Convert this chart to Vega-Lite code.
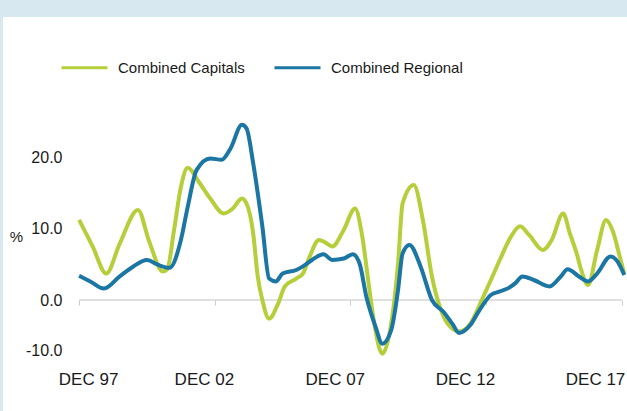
{
  "$schema": "https://vega.github.io/schema/vega-lite/v6.json",
  "width": 624,
  "height": 394,
  "autosize": {"type": "none"},
  "padding": {"left": 3, "top": 17, "right": 0, "bottom": 0},
  "background": "#d7e8f0",
  "view": {"fill": "white", "stroke": null},
  "config": {
    "font": "Liberation Sans",
    "axis": {"labelColor": "#1a1a1a", "titleColor": "#1a1a1a", "labelFont": "Liberation Sans", "titleFont": "Liberation Sans"}
  },
  "datasets": {
    "zero": [{"start": "1997-12-01", "end": "2017-12-01", "level": 0}],
    "series": [
      {"date": "1997-12-01", "series": "Combined Capitals", "value": 11.2},
      {"date": "1998-06-01", "series": "Combined Capitals", "value": 7.5},
      {"date": "1998-12-01", "series": "Combined Capitals", "value": 3.7},
      {"date": "1999-06-01", "series": "Combined Capitals", "value": 7.9},
      {"date": "2000-02-01", "series": "Combined Capitals", "value": 12.6},
      {"date": "2000-07-01", "series": "Combined Capitals", "value": 8.2},
      {"date": "2001-01-01", "series": "Combined Capitals", "value": 4.0},
      {"date": "2001-03-01", "series": "Combined Capitals", "value": 4.3},
      {"date": "2001-06-01", "series": "Combined Capitals", "value": 9.8},
      {"date": "2001-09-01", "series": "Combined Capitals", "value": 15.8},
      {"date": "2001-12-01", "series": "Combined Capitals", "value": 18.5},
      {"date": "2002-05-01", "series": "Combined Capitals", "value": 16.5},
      {"date": "2002-10-01", "series": "Combined Capitals", "value": 14.2},
      {"date": "2003-04-01", "series": "Combined Capitals", "value": 12.1},
      {"date": "2003-08-01", "series": "Combined Capitals", "value": 12.8},
      {"date": "2003-12-01", "series": "Combined Capitals", "value": 14.2},
      {"date": "2004-02-01", "series": "Combined Capitals", "value": 13.5},
      {"date": "2004-05-01", "series": "Combined Capitals", "value": 9.3},
      {"date": "2004-07-01", "series": "Combined Capitals", "value": 3.3},
      {"date": "2004-09-01", "series": "Combined Capitals", "value": 0.0},
      {"date": "2004-12-01", "series": "Combined Capitals", "value": -2.6},
      {"date": "2005-04-01", "series": "Combined Capitals", "value": -0.5},
      {"date": "2005-07-01", "series": "Combined Capitals", "value": 1.9},
      {"date": "2005-12-01", "series": "Combined Capitals", "value": 3.0},
      {"date": "2006-03-01", "series": "Combined Capitals", "value": 3.7},
      {"date": "2006-06-01", "series": "Combined Capitals", "value": 6.1},
      {"date": "2006-10-01", "series": "Combined Capitals", "value": 8.4},
      {"date": "2006-12-01", "series": "Combined Capitals", "value": 8.2},
      {"date": "2007-04-01", "series": "Combined Capitals", "value": 7.5},
      {"date": "2007-09-01", "series": "Combined Capitals", "value": 9.8},
      {"date": "2008-02-01", "series": "Combined Capitals", "value": 12.8},
      {"date": "2008-05-01", "series": "Combined Capitals", "value": 9.3},
      {"date": "2008-08-01", "series": "Combined Capitals", "value": 2.3},
      {"date": "2008-10-01", "series": "Combined Capitals", "value": -2.3},
      {"date": "2009-01-01", "series": "Combined Capitals", "value": -7.0},
      {"date": "2009-02-01", "series": "Combined Capitals", "value": -7.5},
      {"date": "2009-06-01", "series": "Combined Capitals", "value": -3.3},
      {"date": "2009-09-01", "series": "Combined Capitals", "value": 5.1},
      {"date": "2009-11-01", "series": "Combined Capitals", "value": 13.5},
      {"date": "2010-04-01", "series": "Combined Capitals", "value": 16.1},
      {"date": "2010-08-01", "series": "Combined Capitals", "value": 11.2},
      {"date": "2010-12-01", "series": "Combined Capitals", "value": 3.3},
      {"date": "2011-04-01", "series": "Combined Capitals", "value": -1.4},
      {"date": "2011-08-01", "series": "Combined Capitals", "value": -3.7},
      {"date": "2011-12-01", "series": "Combined Capitals", "value": -4.4},
      {"date": "2012-05-01", "series": "Combined Capitals", "value": -3.3},
      {"date": "2012-10-01", "series": "Combined Capitals", "value": 0.0},
      {"date": "2013-02-01", "series": "Combined Capitals", "value": 2.8},
      {"date": "2013-06-01", "series": "Combined Capitals", "value": 5.6},
      {"date": "2013-11-01", "series": "Combined Capitals", "value": 8.9},
      {"date": "2014-03-01", "series": "Combined Capitals", "value": 10.3},
      {"date": "2014-07-01", "series": "Combined Capitals", "value": 9.1},
      {"date": "2015-01-01", "series": "Combined Capitals", "value": 7.0},
      {"date": "2015-05-01", "series": "Combined Capitals", "value": 8.4},
      {"date": "2015-10-01", "series": "Combined Capitals", "value": 12.1},
      {"date": "2016-01-01", "series": "Combined Capitals", "value": 9.3},
      {"date": "2016-04-01", "series": "Combined Capitals", "value": 6.5},
      {"date": "2016-06-01", "series": "Combined Capitals", "value": 4.2},
      {"date": "2016-09-01", "series": "Combined Capitals", "value": 2.1},
      {"date": "2017-01-01", "series": "Combined Capitals", "value": 7.0},
      {"date": "2017-05-01", "series": "Combined Capitals", "value": 11.2},
      {"date": "2017-08-01", "series": "Combined Capitals", "value": 9.6},
      {"date": "2017-11-01", "series": "Combined Capitals", "value": 6.1},
      {"date": "2018-01-01", "series": "Combined Capitals", "value": 3.7},
      {"date": "1997-12-01", "series": "Combined Regional", "value": 3.4},
      {"date": "1998-05-01", "series": "Combined Regional", "value": 2.6},
      {"date": "1998-11-01", "series": "Combined Regional", "value": 1.6},
      {"date": "1999-06-01", "series": "Combined Regional", "value": 3.3},
      {"date": "1999-12-01", "series": "Combined Regional", "value": 4.7},
      {"date": "2000-06-01", "series": "Combined Regional", "value": 5.6},
      {"date": "2000-11-01", "series": "Combined Regional", "value": 4.9},
      {"date": "2001-04-01", "series": "Combined Regional", "value": 4.5},
      {"date": "2001-09-01", "series": "Combined Regional", "value": 8.4},
      {"date": "2001-12-01", "series": "Combined Regional", "value": 13.0},
      {"date": "2002-04-01", "series": "Combined Regional", "value": 18.2},
      {"date": "2002-10-01", "series": "Combined Regional", "value": 19.8},
      {"date": "2003-03-01", "series": "Combined Regional", "value": 19.6},
      {"date": "2003-07-01", "series": "Combined Regional", "value": 21.2},
      {"date": "2003-12-01", "series": "Combined Regional", "value": 24.5},
      {"date": "2004-02-01", "series": "Combined Regional", "value": 24.0},
      {"date": "2004-05-01", "series": "Combined Regional", "value": 19.1},
      {"date": "2004-09-01", "series": "Combined Regional", "value": 10.3},
      {"date": "2004-12-01", "series": "Combined Regional", "value": 3.0},
      {"date": "2005-03-01", "series": "Combined Regional", "value": 2.6},
      {"date": "2005-06-01", "series": "Combined Regional", "value": 3.7},
      {"date": "2005-12-01", "series": "Combined Regional", "value": 4.2},
      {"date": "2006-03-01", "series": "Combined Regional", "value": 4.7},
      {"date": "2006-07-01", "series": "Combined Regional", "value": 5.6},
      {"date": "2006-12-01", "series": "Combined Regional", "value": 6.4},
      {"date": "2007-04-01", "series": "Combined Regional", "value": 5.6},
      {"date": "2007-09-01", "series": "Combined Regional", "value": 5.8},
      {"date": "2008-01-01", "series": "Combined Regional", "value": 6.4},
      {"date": "2008-04-01", "series": "Combined Regional", "value": 5.1},
      {"date": "2008-07-01", "series": "Combined Regional", "value": 0.5},
      {"date": "2008-11-01", "series": "Combined Regional", "value": -3.7},
      {"date": "2009-02-01", "series": "Combined Regional", "value": -6.1},
      {"date": "2009-06-01", "series": "Combined Regional", "value": -4.2},
      {"date": "2009-09-01", "series": "Combined Regional", "value": 1.4},
      {"date": "2009-11-01", "series": "Combined Regional", "value": 6.5},
      {"date": "2010-02-01", "series": "Combined Regional", "value": 7.7},
      {"date": "2010-07-01", "series": "Combined Regional", "value": 4.7},
      {"date": "2010-12-01", "series": "Combined Regional", "value": 0.0},
      {"date": "2011-05-01", "series": "Combined Regional", "value": -1.6},
      {"date": "2011-09-01", "series": "Combined Regional", "value": -3.3},
      {"date": "2011-12-01", "series": "Combined Regional", "value": -4.6},
      {"date": "2012-05-01", "series": "Combined Regional", "value": -3.5},
      {"date": "2012-09-01", "series": "Combined Regional", "value": -1.4},
      {"date": "2013-02-01", "series": "Combined Regional", "value": 0.7},
      {"date": "2013-06-01", "series": "Combined Regional", "value": 1.2},
      {"date": "2013-10-01", "series": "Combined Regional", "value": 1.7},
      {"date": "2014-01-01", "series": "Combined Regional", "value": 2.4},
      {"date": "2014-04-01", "series": "Combined Regional", "value": 3.3},
      {"date": "2014-09-01", "series": "Combined Regional", "value": 2.8},
      {"date": "2015-04-01", "series": "Combined Regional", "value": 1.9},
      {"date": "2015-09-01", "series": "Combined Regional", "value": 3.3},
      {"date": "2015-12-01", "series": "Combined Regional", "value": 4.3},
      {"date": "2016-05-01", "series": "Combined Regional", "value": 3.3},
      {"date": "2016-09-01", "series": "Combined Regional", "value": 2.6},
      {"date": "2017-01-01", "series": "Combined Regional", "value": 3.7},
      {"date": "2017-07-01", "series": "Combined Regional", "value": 6.1},
      {"date": "2017-10-01", "series": "Combined Regional", "value": 5.4},
      {"date": "2018-01-01", "series": "Combined Regional", "value": 3.5}
    ]
  },
  "resolve": {"axis": {"x": "independent", "y": "independent"}},
  "layer": [
    {
      "data": {"name": "zero"},
      "mark": {"type": "rule", "color": "#d6d6d6", "strokeWidth": 1.5},
      "encoding": {
        "x": {
          "field": "start", "type": "temporal",
          "scale": {"type": "utc", "domain": [{"year": 1995, "month": 2, "date": 11, "utc": true}, {"year": 2018, "month": 2, "date": 7, "utc": true}]},
          "axis": {
            "orient": "bottom", "offset": -111, "domain": false, "labels": false, "grid": false, "title": null,
            "ticks": true, "tickSize": 5, "tickColor": "#cccccc", "tickWidth": 1,
            "values": [
              {"year": 1997, "month": 12, "date": 1, "utc": true},
              {"year": 2002, "month": 12, "date": 1, "utc": true},
              {"year": 2007, "month": 12, "date": 1, "utc": true},
              {"year": 2012, "month": 12, "date": 1, "utc": true},
              {"year": 2017, "month": 12, "date": 1, "utc": true}
            ]
          }
        },
        "x2": {"field": "end"},
        "y": {"field": "level", "type": "quantitative", "scale": {"domain": [-15.52, 39.58], "nice": false, "zero": false}, "axis": null}
      }
    },
    {
      "data": {"name": "series"},
      "mark": {"type": "line", "strokeWidth": 4, "interpolate": "monotone"},
      "encoding": {
        "x": {
          "field": "date", "type": "temporal",
          "scale": {"type": "utc", "domain": [{"year": 1995, "month": 2, "date": 11, "utc": true}, {"year": 2018, "month": 2, "date": 7, "utc": true}]},
          "axis": {
            "orient": "bottom", "offset": -40, "domain": false, "ticks": false, "tickSize": 0, "grid": false, "title": null,
            "labelPadding": 0, "labelFontSize": 17, "labelFlush": false, "labelOverlap": false,
            "values": [
              {"year": 1998, "month": 4, "date": 1, "utc": true},
              {"year": 2002, "month": 7, "date": 7, "utc": true},
              {"year": 2007, "month": 5, "date": 4, "utc": true},
              {"year": 2012, "month": 2, "date": 19, "utc": true},
              {"year": 2016, "month": 12, "date": 4, "utc": true}
            ],
            "labelExpr": "['DEC 97','DEC 02','DEC 07','DEC 12','DEC 17'][round(datum.index*4)]"
          }
        },
        "y": {
          "field": "value", "type": "quantitative",
          "scale": {"domain": [-15.52, 39.58], "nice": false, "zero": false},
          "axis": {
            "orient": "left", "offset": -59, "domain": false, "ticks": false, "tickSize": 0, "grid": false,
            "labelPadding": 0, "labelFontSize": 16, "labelOverlap": false,
            "values": [20, 10, 0, -7],
            "labelExpr": "datum.value < -1 ? '-10.0' : format(datum.value, '.1f')",
            "title": "%", "titleAngle": 0, "titleX": -46, "titleY": 219, "titleAlign": "center", "titleBaseline": "middle",
            "titleFontSize": 15, "titleFontWeight": "normal"
          }
        },
        "color": {
          "field": "series", "type": "nominal",
          "scale": {"domain": ["Combined Capitals", "Combined Regional"], "range": ["#b5cf3b", "#1b76a4"]},
          "legend": {
            "orient": "none", "legendX": 57, "legendY": 26, "direction": "horizontal", "title": null,
            "symbolType": "stroke", "symbolSize": 2116, "symbolStrokeWidth": 3,
            "labelFontSize": 15, "labelOffset": 9, "columnPadding": 23, "padding": 0,
            "labelColor": "#1a1a1a", "labelFont": "Liberation Sans"
          }
        }
      }
    }
  ]
}
